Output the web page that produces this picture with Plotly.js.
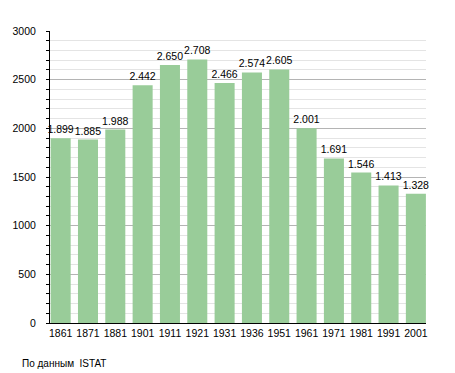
<!DOCTYPE html>
<html>
<head>
<meta charset="utf-8">
<script src="https://cdn.plot.ly/plotly-3.0.1.min.js"></script>
<style>html,body{margin:0;padding:0;background:#fff;}#chart{width:455px;height:373px;}</style>
</head>
<body>
<div id="chart"></div>
<script>
const years = ["1861","1871","1881","1901","1911","1921","1931","1936","1951","1961","1971","1981","1991","2001"];
const population = [1899,1885,1988,2442,2650,2708,2466,2574,2605,2001,1691,1546,1413,1328];
const sourceNote = "По данным  ISTAT";

const trace = {
  type: 'bar',
  x: years,
  y: population,
  marker: {color: '#99cc99', line: {width: 0}},
  texttemplate: '%{y:,}',
  textposition: 'outside',
  constraintext: 'none',
  cliponaxis: false,
  textfont: {family: 'Liberation Sans, Arial, sans-serif', size: 10.5, color: '#000'},
  hoverinfo: 'none'
};

const layout = {
  width: 455, height: 373,
  margin: {l: 50, r: 29, t: 31, b: 50, pad: 0},
  paper_bgcolor: '#fff', plot_bgcolor: '#fff',
  separators: ',.',
  bargap: 0.267,
  showlegend: false,
  font: {family: 'Liberation Sans, Arial, sans-serif', size: 10, color: '#000'},
  xaxis: {
    type: 'category',
    range: [-0.39, 13.37],
    showline: true, linecolor: '#000', linewidth: 1,
    ticks: '', showgrid: false, zeroline: false,
    tickfont: {size: 10.5, color: '#000'},
    fixedrange: true
  },
  yaxis: {
    range: [0, 3000],
    dtick: 500, tick0: 0,
    showline: true, linecolor: '#000', linewidth: 1,
    ticks: 'outside', ticklen: 3, tickcolor: '#000',
    ticklabelstandoff: 8,
    showgrid: true, gridcolor: '#b4b4b4', gridwidth: 1,
    zeroline: false,
    tickfont: {size: 10.5, color: '#000'},
    minor: {dtick: 100, ticks: 'outside', ticklen: 3, tickcolor: '#000', showgrid: true, gridcolor: '#e4e4e4', gridwidth: 1},
    fixedrange: true
  },
  annotations: [{
    xref: 'paper', yref: 'paper',
    x: -0.079, y: -0.14,
    xanchor: 'left', yanchor: 'middle',
    text: sourceNote, showarrow: false,
    font: {size: 10, color: '#000'}
  }]
};

Plotly.newPlot('chart', [trace], layout, {displayModeBar: false, staticPlot: true});
</script>
</body>
</html>
